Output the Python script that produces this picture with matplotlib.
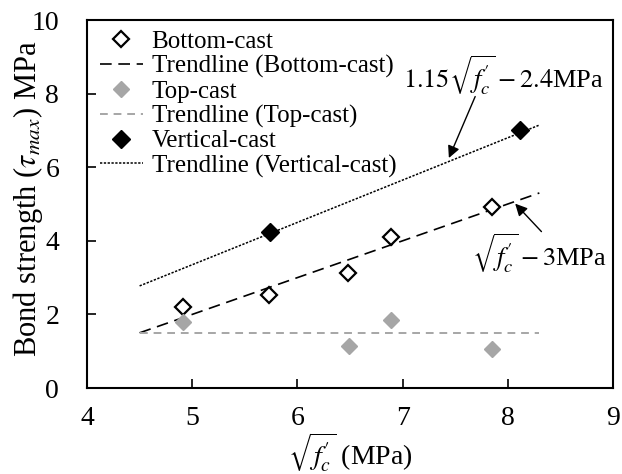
import numpy as np
import matplotlib
matplotlib.use("Agg")
import matplotlib.pyplot as plt

plt.rcParams['font.family'] = ['Liberation Serif', 'DejaVu Serif']
plt.rcParams['mathtext.fontset'] = 'stix'

# data
bottom_x = [4.91, 5.73, 6.48, 6.89, 7.85]
bottom_y = [2.21, 2.53, 3.13, 4.11, 4.93]
top_x = [4.91, 6.49, 6.89, 7.85]
top_y = [1.80, 1.14, 1.85, 1.05]
vert_x = [5.74, 8.12]
vert_y = [4.25, 7.01]

# trendlines
trend_x = np.array([4.5, 8.3])
bottom_trend = trend_x - 3.0
top_trend = np.array([1.5, 1.5])
vert_trend = 1.15 * trend_x - 2.4

grey = '#a6a6a6'

fig = plt.figure(figsize=(6.22, 4.74), dpi=100)
ax = fig.add_axes([0.1399, 0.1814, 0.8456, 0.7764])

ms = 8.5
ax.plot(bottom_x, bottom_y, 'D', ms=ms, mfc='white', mec='black', mew=1.6,
        ls='none', label='Bottom-cast', zorder=3)
ax.plot(trend_x, bottom_trend, color='black', lw=1.2, dashes=(7, 4),
        label='Trendline (Bottom-cast)')
ax.plot(top_x, top_y, 'D', ms=ms, mfc=grey, mec=grey, ls='none',
        label='Top-cast', zorder=3)
ax.plot(trend_x, top_trend, color=grey, lw=1.4, dashes=(4, 3),
        label='Trendline (Top-cast)')
ax.plot(vert_x, vert_y, 'D', ms=9, mfc='black', mec='black', ls='none',
        label='Vertical-cast', zorder=3)
ax.plot(trend_x, vert_trend, color='black', lw=1.1, dashes=(1.5, 1),
        label='Trendline (Vertical-cast)')

ax.set_xlim(4, 9)
ax.set_ylim(0, 10)
ax.set_xticks(range(4, 10))
ax.set_yticks(range(0, 11, 2))
ax.tick_params(direction='in', length=6.5, width=1.2, labelsize=20)
ax.tick_params(axis='x', pad=13)
ax.tick_params(axis='y', pad=20)
for s in ax.spines.values():
    s.set_linewidth(1.5)

ax.set_xlabel(r"$\sqrt{f_c'}$ (MPa)", fontsize=20, labelpad=0)
ax.set_ylabel(r"Bond strength ($\tau_{max}$) MPa", fontsize=22)
ax.yaxis.set_label_coords(-0.08, 0.515)

ax.legend(loc='upper left', frameon=False, fontsize=18, handlelength=1.7,
          labelspacing=0.08, handletextpad=0.36, borderaxespad=0.0,
          bbox_to_anchor=(0.006, 0.998))

# formula labels and arrows
ax.text(7.96, 8.5, r"$1.15\sqrt{f_c'} - 2.4$MPa", fontsize=19,
        ha='center', va='center')
ax.annotate('', xy=(7.44, 6.25), xytext=(7.69, 7.92),
            arrowprops=dict(arrowstyle='-|>', color='black', lw=1.0,
                            shrinkA=0, shrinkB=0, mutation_scale=18))
ax.text(8.30, 3.67, r"$\sqrt{f_c'} - 3$MPa", fontsize=19,
        ha='center', va='center')
ax.annotate('', xy=(8.07, 5.01), xytext=(8.32, 4.25),
            arrowprops=dict(arrowstyle='-|>', color='black', lw=1.0,
                            shrinkA=0, shrinkB=0, mutation_scale=18))

fig.savefig('out.png', dpi=100)
